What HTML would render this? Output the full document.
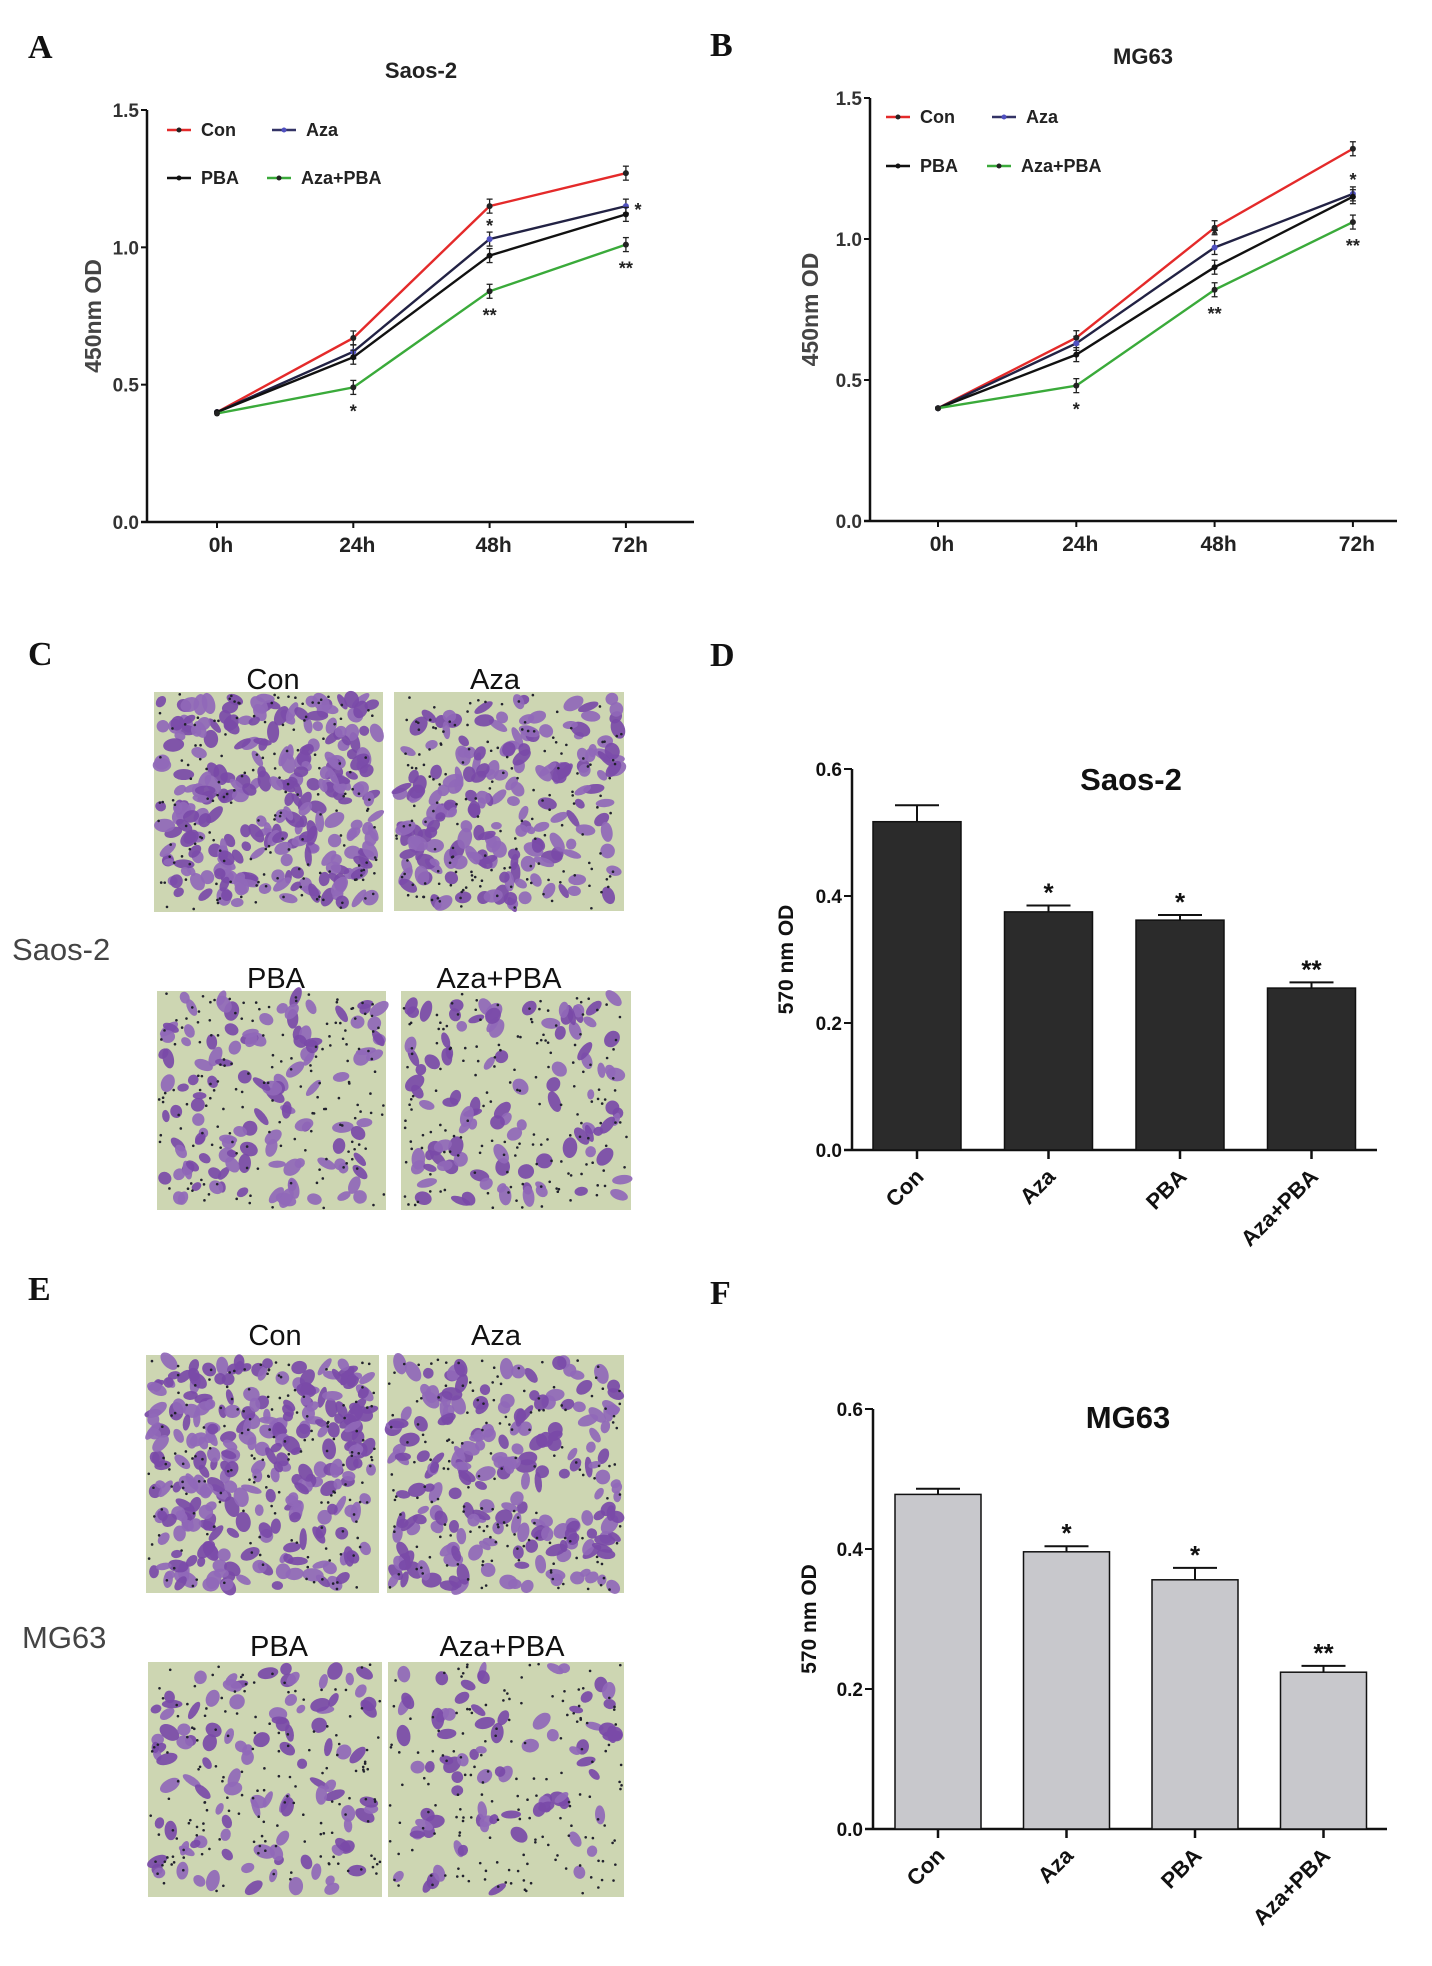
<!DOCTYPE html>
<html><head><meta charset="utf-8">
<style>
html,body{margin:0;padding:0;background:#fff;}
body{width:1432px;height:1966px;position:relative;overflow:hidden;font-family:"Liberation Sans",Arial,sans-serif;}
svg{position:absolute;left:0;top:0;}
</style></head>
<body>
<svg id="fig" width="1432" height="1966" viewBox="0 0 1432 1966">
  <g font-family="Liberation Serif,serif" font-weight="bold" font-size="34" fill="#111">
    <text x="28" y="58">A</text>
    <text x="710" y="56">B</text>
    <text x="28" y="665">C</text>
    <text x="710" y="666">D</text>
    <text x="28" y="1300">E</text>
    <text x="710" y="1304">F</text>
  </g>
  <g id="lineA"></g>
  <g id="lineB"></g>
  <g id="photosC"></g>
  <g id="photosE"></g>
  <g id="barD"></g>
  <g id="barF"></g>
  <g font-family="Liberation Sans,Arial,sans-serif" font-size="31" fill="#444">
    <text x="12" y="960">Saos-2</text>
    <text x="22" y="1648">MG63</text>
  </g>
</svg>
<script>
// ---- Data ----
const timeLabels = ["0h","24h","48h","72h"];
const seriesNames = ["Con","Aza","PBA","Aza+PBA"];
const saosCon = [0.40, 0.67, 1.15, 1.27];
const saosAza = [0.40, 0.62, 1.03, 1.15];
const saosPBA = [0.40, 0.60, 0.97, 1.12];
const saosAzaPBA = [0.395, 0.49, 0.84, 1.01];
const mgCon = [0.40, 0.65, 1.04, 1.32];
const mgAza = [0.40, 0.63, 0.97, 1.16];
const mgPBA = [0.40, 0.59, 0.90, 1.15];
const mgAzaPBA = [0.40, 0.48, 0.82, 1.06];
const lineTicks = [0.0, 0.5, 1.0, 1.5];
const lineTickLabels = ["0.0","0.5","1.0","1.5"];
const barCategories = ["Con","Aza","PBA","Aza+PBA"];
const saosBarValues = [0.517, 0.375, 0.362, 0.255];
const saosBarErrors = [0.026, 0.010, 0.008, 0.009];
const mgBarValues = [0.478, 0.396, 0.356, 0.224];
const mgBarErrors = [0.008, 0.008, 0.017, 0.009];
const barSig = ["", "*", "*", "**"];
const barTicks = [0.0, 0.2, 0.4, 0.6];
const barTickLabels = ["0.0","0.2","0.4","0.6"];

const NS = "http://www.w3.org/2000/svg";
function mk(parent, tag, attrs, text){
  const e = document.createElementNS(NS, tag);
  for (const k in attrs) e.setAttribute(k, attrs[k]);
  if (text !== undefined) e.textContent = text;
  parent.appendChild(e);
  return e;
}

function lineChart(g, cfg){
  const xOf = i => cfg.x0 + i*cfg.dx;
  const yOf = v => cfg.yBase - v/1.5*cfg.yH;
  const yTop = yOf(1.5);
  let e;
  e = mk(g,"text",{x:cfg.titleX,y:cfg.titleY,"text-anchor":"middle","font-size":22,"font-weight":"bold",fill:"#222"},cfg.title);
  
  
  e = mk(g,"line",{x1:cfg.axisX,y1:yTop,x2:cfg.axisX,y2:cfg.yBase,stroke:"#111","stroke-width":2.5});
  
  
  e = mk(g,"line",{x1:cfg.axisX-6,y1:cfg.yBase,x2:cfg.axisEnd,y2:cfg.yBase,stroke:"#111","stroke-width":2.5});
  
  
  lineTicks.forEach((t,i)=>{
    const y = yOf(t);
    mk(g,"line",{x1:cfg.axisX-6,y1:y,x2:cfg.axisX,y2:y,stroke:"#111","stroke-width":2});
    e = mk(g,"text",{x:cfg.axisX-8,y:y+7,"text-anchor":"end","font-size":19,"font-weight":"bold",fill:"#333"},lineTickLabels[i]);
    
    
  });
  timeLabels.forEach((t,i)=>{
    const x = xOf(i);
    mk(g,"line",{x1:x,y1:cfg.yBase,x2:x,y2:cfg.yBase+6,stroke:"#111","stroke-width":2});
    e = mk(g,"text",{x:x+4,y:cfg.yBase+30,"text-anchor":"middle","font-size":21,"font-weight":"bold",fill:"#222"},t);
    
    
  });
  e = mk(g,"text",{transform:`translate(${cfg.ylabX},${(yTop+cfg.yBase)/2}) rotate(-90)`,"text-anchor":"middle","font-size":23,"font-weight":"bold",fill:"#444"},"450nm OD");
  
  
  const colors = ["#e42a2a","#222244","#111111","#3aaa3a"];
  const mcol = ["#222","#5050c0","#111","#222"];
  cfg.series.forEach((s,si)=>{
    const pts = s.map((v,i)=>xOf(i)+","+yOf(v)).join(" ");
    e = mk(g,"polyline",{points:pts,fill:"none",stroke:colors[si],"stroke-width":2.4});
    
    
    s.forEach((v,i)=>{
      const x=xOf(i), y=yOf(v);
      if(i>0){
        mk(g,"line",{x1:x,y1:y-7,x2:x,y2:y+7,stroke:"#222","stroke-width":1.3});
        mk(g,"line",{x1:x-3,y1:y-7,x2:x+3,y2:y-7,stroke:"#222","stroke-width":1.3});
        mk(g,"line",{x1:x-3,y1:y+7,x2:x+3,y2:y+7,stroke:"#222","stroke-width":1.3});
      }
      e = mk(g,"circle",{cx:x,cy:y,r:3,fill:mcol[si]});
      
      
    });
  });
  const st = {"font-size":18,"font-weight":"bold",fill:"#222","text-anchor":"middle"};
  const green = cfg.series[3], aza = cfg.series[1];
  mk(g,"text",Object.assign({x:xOf(1),y:yOf(green[1])+30},st),"*");
  mk(g,"text",Object.assign({x:xOf(2),y:yOf(aza[2])-7},st),"*");
  mk(g,"text",Object.assign({x:xOf(2),y:yOf(green[2])+30},st),"**");
  mk(g,"text",Object.assign({x:cfg.star72x,y:yOf(aza[3])+cfg.star72dy},st),"*");
  mk(g,"text",Object.assign({x:xOf(3),y:yOf(green[3])+30},st),"**");
  const L = cfg.legend;
  const items = [[L.c1,L.r1,0],[L.c2,L.r1,1],[L.c1b,L.r2,2],[L.c2b,L.r2,3]];
  items.forEach(([lx,ly,si])=>{
    mk(g,"line",{x1:lx,y1:ly,x2:lx+24,y2:ly,stroke:colors[si]==="#222244"?"#333366":colors[si],"stroke-width":2.4});
    mk(g,"circle",{cx:lx+12,cy:ly,r:2.5,fill:mcol[si]});
    e = mk(g,"text",{x:lx+34,y:ly+6,"font-size":18,"font-weight":"bold",fill:"#222"},seriesNames[si]);
    
    
  });
}

lineChart(document.getElementById("lineA"),{
  x0:217,dx:136.3,yBase:522,yH:412,axisX:147,axisEnd:694,title:"Saos-2",titleX:421,titleY:78,ylabX:101,
  series:[saosCon,saosAza,saosPBA,saosAzaPBA],star72x:638,star72dy:10,
  legend:{c1:167,c2:272,c1b:167,c2b:267,r1:130,r2:178}
});
lineChart(document.getElementById("lineB"),{
  x0:938,dx:138.3,yBase:521,yH:423,axisX:870,axisEnd:1397,title:"MG63",titleX:1143,titleY:64,ylabX:818,
  series:[mgCon,mgAza,mgPBA,mgAzaPBA],star72x:1353,star72dy:-8,
  legend:{c1:886,c2:992,c1b:886,c2b:987,r1:117,r2:166}
});

function barChart(g, cfg){
  const yOf = v => cfg.yBase - v/0.6*cfg.yH;
  const yTop = yOf(0.6);
  let e;
  e = mk(g,"line",{x1:cfg.axisX,y1:yTop,x2:cfg.axisX,y2:cfg.yBase,stroke:"#111","stroke-width":2.5});
  
  
  e = mk(g,"line",{x1:cfg.axisX-8,y1:cfg.yBase,x2:cfg.axisEnd,y2:cfg.yBase,stroke:"#111","stroke-width":2.5});
  
  
  barTicks.forEach((t,i)=>{
    const y=yOf(t);
    mk(g,"line",{x1:cfg.axisX-8,y1:y,x2:cfg.axisX,y2:y,stroke:"#111","stroke-width":2});
    e = mk(g,"text",{x:cfg.axisX-10,y:y+7,"text-anchor":"end","font-size":19,"font-weight":"bold",fill:"#111"},barTickLabels[i]);
    
    
  });
  e = mk(g,"text",{x:cfg.titleX,y:cfg.titleY,"text-anchor":"middle","font-size":31,"font-weight":"bold",fill:"#111"},cfg.title);
  
  
  e = mk(g,"text",{transform:`translate(${cfg.ylabX},${(yTop+cfg.yBase)/2}) rotate(-90)`,"text-anchor":"middle","font-size":21,"font-weight":"bold",fill:"#111"},"570 nm OD");
  
  
  barCategories.forEach((c,i)=>{
    const cx = cfg.x0 + i*cfg.dx;
    const v = cfg.values[i], er = cfg.errors[i];
    const y = yOf(v);
    const ye = yOf(v+er);
    mk(g,"line",{x1:cx,y1:ye,x2:cx,y2:y,stroke:"#111","stroke-width":2});
    mk(g,"line",{x1:cx-22,y1:ye,x2:cx+22,y2:ye,stroke:"#111","stroke-width":2});
    e = mk(g,"rect",{x:cx-cfg.bw/2,y:y,width:cfg.bw,height:cfg.yBase-y,fill:cfg.fill,stroke:"#111","stroke-width":1.5});
    
    
    mk(g,"line",{x1:cx,y1:cfg.yBase,x2:cx,y2:cfg.yBase+9,stroke:"#111","stroke-width":2.5});
    if(barSig[i]) mk(g,"text",{x:cx,y:ye-4,"text-anchor":"middle","font-size":26,"font-weight":"bold",fill:"#111"},barSig[i]);
    e = mk(g,"text",{transform:`translate(${cx+8},${cfg.yBase+28}) rotate(-45)`,"text-anchor":"end","font-size":22,"font-weight":"bold",fill:"#111"},c);
    
    
  });
}
barChart(document.getElementById("barD"),{
  x0:917,dx:131.5,bw:88,yBase:1150,yH:381,axisX:852,axisEnd:1377,fill:"#2b2b2b",
  values:saosBarValues,errors:saosBarErrors,title:"Saos-2",titleX:1131,titleY:790,ylabX:793
});
barChart(document.getElementById("barF"),{
  x0:938,dx:128.5,bw:86,yBase:1829,yH:420,axisX:873,axisEnd:1387,fill:"#c8c8cc",
  values:mgBarValues,errors:mgBarErrors,title:"MG63",titleX:1128,titleY:1428,ylabX:816
});

// ---- Micrograph panels (decorative texture) ----
let seed = 12345;
function rnd(){ seed = (seed*1103515245 + 12345) % 2147483648; return seed/2147483648; }
function photo(g, x, y, w, h, density, label, lx, ly){
  let e = mk(g,"rect",{x:x,y:y,width:w,height:h,fill:"#cdd6b2"});
  
  
  for(let i=0;i<density;i++){
    const cx=x+6+rnd()*(w-12), cy=y+6+rnd()*(h-12);
    const rx=5+rnd()*6, ry=3.5+rnd()*4;
    mk(g,"ellipse",{cx:cx,cy:cy,rx:rx,ry:ry,fill:rnd()<0.5?"#7a4aa8":"#9068b8",transform:`rotate(${Math.floor(rnd()*180)} ${cx} ${cy})`,opacity:0.92});
  }
  for(let i=0;i<160;i++){
    mk(g,"circle",{cx:x+2+rnd()*(w-4),cy:y+2+rnd()*(h-4),r:1.3,fill:"#22222e"});
  }
  e = mk(g,"text",{x:lx,y:ly,"text-anchor":"middle","font-size":29,fill:"#111"},label);
  
  
}
const pc=document.getElementById("photosC");
photo(pc,154,692,229,220,260,"Con",273,689);
photo(pc,394,692,230,219,190,"Aza",495,689);
photo(pc,157,991,229,219,120,"PBA",276,988);
photo(pc,401,991,230,219,100,"Aza+PBA",499,988);
const pe=document.getElementById("photosE");
photo(pe,146,1355,233,238,270,"Con",275,1345);
photo(pe,387,1355,237,238,210,"Aza",496,1345);
photo(pe,148,1662,234,235,105,"PBA",279,1656);
photo(pe,388,1662,236,235,80,"Aza+PBA",502,1656);
</script>
</body></html>
